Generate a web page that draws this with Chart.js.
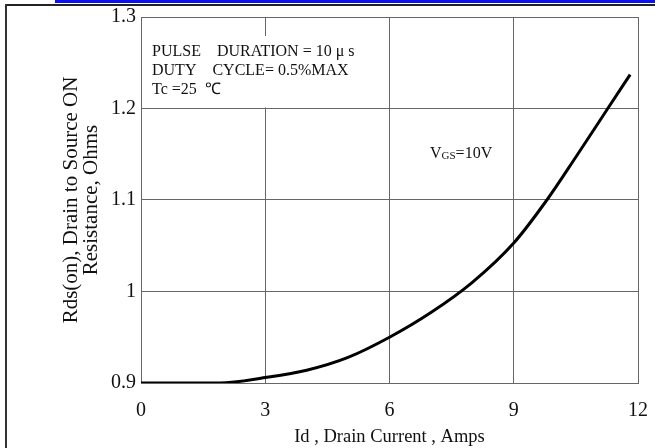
<!DOCTYPE html>
<html>
<head>
<meta charset="utf-8">
<script src="https://cdn.jsdelivr.net/npm/chart.js@4/dist/chart.umd.min.js"></script>
<style>
  html, body { margin: 0; padding: 0; background: #fff; }
  #wrap { position: relative; width: 655px; height: 448px; overflow: hidden; }
  #c { position: absolute; left: 0; top: 0; }
  .blue { position: absolute; left: 55px; top: 0; width: 600px; height: 3px; background: #0a10f0; }
  .ftop { position: absolute; left: 5px; top: 4px; width: 650px; height: 2px; background: #222; }
  .fleft { position: absolute; left: 5px; top: 4px; width: 2px; height: 444px; background: #333; }
</style>
</head>
<body>
<div id="wrap">
  <canvas id="c" width="655" height="448"></canvas>
  <div class="blue"></div>
  <div class="ftop"></div>
  <div class="fleft"></div>
</div>
<script>
// Drain current (A)
const drainCurrent = [0, 1, 1.9, 3, 4, 5, 6, 7, 8, 9, 9.8, 10.5, 11.27, 11.81];
// Rds(on) (Ohms)
const rdsOn = [0.9, 0.9, 0.9, 0.906, 0.914, 0.928, 0.95, 0.977, 1.01, 1.053, 1.1, 1.147, 1.2, 1.237];
const xTickLabels = ['0', '3', '6', '9', '12'];
const yTickLabels = ['0.9', '1', '1.1', '1.2', '1.3'];
const noteLines = ['PULSE    DURATION = 10 \u03bc s', 'DUTY    CYCLE= 0.5%MAX', 'Tc =25  \u2103'];

const serif = '"Liberation Serif", "Times New Roman", serif';

const notesPlugin = {
  id: 'notes',
  beforeDatasetsDraw(chart) {
    const { ctx, scales: { x, y } } = chart;
    ctx.save();
    // white box behind the note text
    const left = x.getPixelForValue(0) + 1;
    const right = x.getPixelForValue(6) - 1;
    const top = y.getPixelForValue(1.3) + 19;
    const bottom = y.getPixelForValue(1.2) - 1;
    ctx.fillStyle = '#fff';
    ctx.fillRect(left, top, right - left, bottom - top);
    ctx.fillStyle = '#111';
    ctx.font = '16px ' + serif;
    ctx.textBaseline = 'alphabetic';
    ctx.textAlign = 'left';
    noteLines.forEach((t, i) => ctx.fillText(t, left + 10, top + 20 + i * 19));
    // VGS label
    let vx = 430, vy = 158;
    ctx.font = '16px ' + serif;
    ctx.fillText('V', vx, vy);
    vx += ctx.measureText('V').width;
    ctx.font = '11px ' + serif;
    ctx.fillText('GS', vx, vy + 1);
    vx += ctx.measureText('GS').width;
    ctx.font = '16px ' + serif;
    ctx.fillText('=10V', vx, vy);
    ctx.restore();
  }
};

new Chart(document.getElementById('c'), {
  type: 'line',
  data: {
    datasets: [{
      data: drainCurrent.map((v, i) => ({ x: v, y: rdsOn[i] })),
      borderColor: '#000',
      borderWidth: 3,
      pointRadius: 0,
      fill: false,
      cubicInterpolationMode: 'monotone'
    }]
  },
  options: {
    responsive: false,
    animation: false,
    layout: { padding: { left: 8, right: 17, top: 17, bottom: 0 } },
    plugins: { legend: { display: false }, tooltip: { enabled: false } },
    scales: {
      x: {
        type: 'linear', min: 0, max: 12,
        afterFit: s => { s.height = 65; s.paddingLeft = 0; s.paddingRight = 0; },
        ticks: {
          stepSize: 3, padding: 16, color: '#111',
          font: { family: serif, size: 20 },
          callback: (v) => xTickLabels[Math.round(v / 3)]
        },
        grid: { color: '#666', lineWidth: 1, drawTicks: false },
        border: { color: '#666', width: 1 },
        title: {
          display: true, text: 'Id , Drain Current , Amps', color: '#111',
          font: { family: serif, size: 18.5 }, padding: { top: 0, bottom: 0 }
        }
      },
      y: {
        type: 'linear', min: 0.9, max: 1.3,
        afterFit: s => { s.width = 133; },
        ticks: {
          stepSize: 0.1, padding: 5, color: '#111',
          font: { family: serif, size: 20 },
          callback: (v) => yTickLabels[Math.round((v - 0.9) * 10)]
        },
        grid: { color: '#666', lineWidth: 1, drawTicks: false },
        border: { color: '#666', width: 1 },
        title: {
          display: true, text: ['Rds(on), Drain to Source ON', 'Resistance, Ohms'], color: '#111',
          font: { family: serif, size: 21, lineHeight: 0.95 }, padding: { top: 54, bottom: 0 }
        }
      }
    }
  },
  plugins: [notesPlugin]
});
</script>
</body>
</html>
